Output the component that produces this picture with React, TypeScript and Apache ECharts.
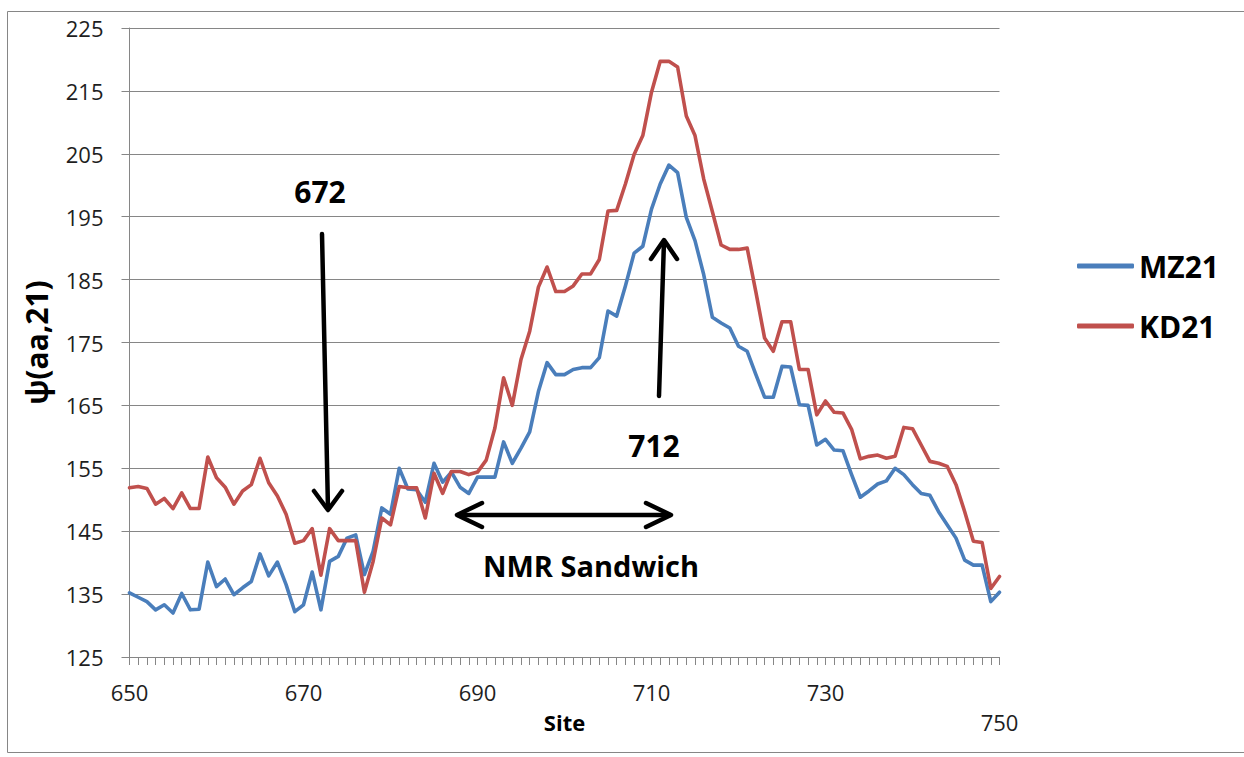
import React, { useEffect, useRef } from 'react';
import * as echarts from 'echarts';

const firstSite = 650;
const xTicks = { min: 650, max: 750, interval: 20 };
const yTicks = { min: 125, max: 225, interval: 10 };

const seriesNames = ['MZ21', 'KD21'];

const mz21 = [
  135.2, 134.5, 133.8, 132.5, 133.3, 132.0, 135.1, 132.5, 132.6, 140.1,
  136.2, 137.4, 134.9, 136.0, 137.0, 141.4, 137.9, 140.1, 136.5, 132.2,
  133.3, 138.5, 132.5, 140.2, 141.0, 143.9, 144.4, 138.1, 141.8, 148.7,
  147.7, 155.0, 151.7, 151.6, 149.6, 155.8, 152.8, 154.4, 152.0, 151.0,
  153.6, 153.6, 153.6, 159.2, 155.8, 158.2, 160.8, 167.2, 171.8, 169.9,
  169.9, 170.7, 171.0, 171.0, 172.6, 180.0, 179.2, 184.0, 189.2, 190.3,
  196.2, 200.2, 203.2, 202.0, 194.9, 191.2, 185.8, 179.0, 178.1, 177.3,
  174.4, 173.6, 169.9, 166.3, 166.3, 171.2, 171.1, 165.1, 165.0, 158.7,
  159.6, 157.9, 157.8, 154.0, 150.4, 151.4, 152.5, 153.0, 155.0, 154.0,
  152.4, 151.0, 150.7, 148.1, 146.0, 143.9, 140.4, 139.6, 139.6, 133.8,
  135.3,
];

const kd21 = [
  151.9, 152.1, 151.8, 149.3, 150.2, 148.6, 151.1, 148.6, 148.6, 156.8,
  153.5, 152.0, 149.3, 151.4, 152.4, 156.6, 152.7, 150.6, 147.7, 143.1,
  143.5, 145.4, 138.0, 145.4, 143.5, 143.5, 143.5, 135.3, 140.2, 147.1,
  146.0, 152.1, 151.9, 151.9, 147.1, 154.2, 151.0, 154.5, 154.5, 154.0,
  154.4, 156.3, 161.4, 169.4, 165.0, 172.3, 176.8, 183.8, 187.0, 183.1,
  183.1, 184.0, 185.9, 185.9, 188.2, 195.9, 196.0, 200.2, 204.9, 207.9,
  214.8, 219.7, 219.7, 218.8, 211.0, 207.9, 201.0, 195.8, 190.5, 189.8,
  189.8, 190.0, 183.0, 175.7, 173.6, 178.3, 178.3, 170.7, 170.7, 163.5,
  165.7, 163.9, 163.8, 161.2, 156.5, 156.9, 157.1, 156.6, 156.9, 161.5,
  161.3, 158.7, 156.1, 155.8, 155.3, 152.4, 148.1, 143.4, 143.2, 135.9,
  137.8,
];

const FONT = '"Open Sans", "Liberation Sans", sans-serif';
const AXIS_GRAY = '#868686';
const TEXT = '#1e1e1e';

function pairs(values: number[]) {
  return values.map((v, i) => [firstSite + i, v]);
}

export default function App() {
  const ref = useRef<HTMLDivElement>(null);

  useEffect(() => {
    if (!ref.current) return;
    const chart = echarts.init(ref.current, undefined, { renderer: 'svg' });

    const arrowStyle = { stroke: '#000', lineWidth: 4.5, fill: 'none', lineCap: 'round', lineJoin: 'round' };

    const option: any = {
      animation: false,
      backgroundColor: '#ffffff',
      grid: { left: 129.5, right: 244.5, top: 28, bottom: 100, containLabel: false, outerBoundsMode: 'none' },
      legend: {
        orient: 'vertical',
        left: 1072,
        top: 246,
        itemWidth: 57,
        itemHeight: 5,
        itemGap: 30,
        icon: 'roundRect',
        data: seriesNames,
        textStyle: { fontFamily: FONT, fontSize: 30, fontWeight: 'bold', color: '#000' },
      },
      xAxis: {
        type: 'value',
        min: xTicks.min,
        max: xTicks.max,
        interval: xTicks.interval,
        name: 'Site',
        nameLocation: 'middle',
        nameGap: 54,
        nameMoveOverlap: false,
        nameTextStyle: { fontFamily: FONT, fontSize: 22, fontWeight: 'bold', color: '#000' },
        axisLine: { show: true, lineStyle: { color: AXIS_GRAY, width: 1 } },
        axisTick: { show: true, length: 8, lineStyle: { color: AXIS_GRAY } },
        minorTick: { show: true, splitNumber: 20, length: 8, lineStyle: { color: AXIS_GRAY } },
        splitLine: { show: false },
        axisLabel: {
          margin: 24,
          fontFamily: FONT,
          fontSize: 22,
          color: TEXT,
          formatter: (v: number) => (v === 750 ? '{low|750}' : String(v)),
          rich: {
            low: { padding: [30, 0, 0, 0], fontFamily: FONT, fontSize: 22, color: TEXT },
          },
        },
      },
      yAxis: [
        {
          type: 'value',
          min: yTicks.min,
          max: yTicks.max,
          interval: yTicks.interval,
          name: 'ψ(aa,21)',
          nameLocation: 'middle',
          nameGap: 78,
          nameMoveOverlap: false,
          nameTextStyle: { fontFamily: FONT, fontSize: 30, fontWeight: 'bold', color: '#000' },
          axisLine: { show: true, lineStyle: { color: AXIS_GRAY, width: 1 } },
          axisTick: { show: true, length: 8, lineStyle: { color: AXIS_GRAY } },
          splitLine: { show: true, lineStyle: { color: AXIS_GRAY, width: 1 } },
          axisLabel: { margin: 26, fontFamily: FONT, fontSize: 22, color: TEXT },
        },
        {
          type: 'value',
          min: yTicks.min,
          max: yTicks.max,
          interval: yTicks.interval,
          position: 'left',
          axisLine: { show: false },
          axisTick: { show: true, inside: true, length: 8, lineStyle: { color: AXIS_GRAY } },
          splitLine: { show: false },
          axisLabel: { show: false },
        },
      ],
      series: [
        {
          name: seriesNames[0],
          type: 'line',
          data: pairs(mz21),
          showSymbol: false,
          symbol: 'none',
          color: '#4A7EBB',
          lineStyle: { width: 3.6, color: '#4A7EBB', cap: 'round', join: 'round' },
        },
        {
          name: seriesNames[1],
          type: 'line',
          data: pairs(kd21),
          showSymbol: false,
          symbol: 'none',
          color: '#C0504D',
          lineStyle: { width: 3.6, color: '#C0504D', cap: 'round', join: 'round' },
        },
      ],
      graphic: [
        {
          type: 'rect',
          silent: true,
          shape: { x: 7.5, y: 11.5, width: 1260, height: 741 },
          style: { stroke: AXIS_GRAY, fill: 'none', lineWidth: 1 },
          z: -10,
        },
        {
          type: 'text',
          x: 320,
          y: 191,
          style: { text: '672', font: `bold 30px ${FONT}`, fill: '#000', align: 'center', verticalAlign: 'middle' },
          z: 100,
        },
        { type: 'line', shape: { x1: 322, y1: 234, x2: 328, y2: 509 }, style: arrowStyle, z: 100 },
        { type: 'polyline', shape: { points: [[314, 491], [328, 510], [342, 491]] }, style: arrowStyle, z: 100 },
        {
          type: 'text',
          x: 654,
          y: 445,
          style: { text: '712', font: `bold 30px ${FONT}`, fill: '#000', align: 'center', verticalAlign: 'middle' },
          z: 100,
        },
        { type: 'line', shape: { x1: 659, y1: 396, x2: 664, y2: 241 }, style: arrowStyle, z: 100 },
        { type: 'polyline', shape: { points: [[651, 259], [664, 240], [677, 259]] }, style: arrowStyle, z: 100 },
        { type: 'line', shape: { x1: 458, y1: 515, x2: 670, y2: 515 }, style: arrowStyle, z: 100 },
        { type: 'polyline', shape: { points: [[482, 503], [457, 515], [482, 527]] }, style: arrowStyle, z: 100 },
        { type: 'polyline', shape: { points: [[646, 503], [671, 515], [646, 527]] }, style: arrowStyle, z: 100 },
        {
          type: 'text',
          x: 591,
          y: 565,
          style: { text: 'NMR Sandwich', font: `bold 29px ${FONT}`, fill: '#000', align: 'center', verticalAlign: 'middle' },
          z: 100,
        },
      ],
    };

    chart.setOption(option);
    return () => chart.dispose();
  }, []);

  return (
    <div
      ref={ref}
      style={{ position: 'fixed', left: 0, top: 0, width: 1244, height: 757, background: '#fff' }}
    />
  );
}
